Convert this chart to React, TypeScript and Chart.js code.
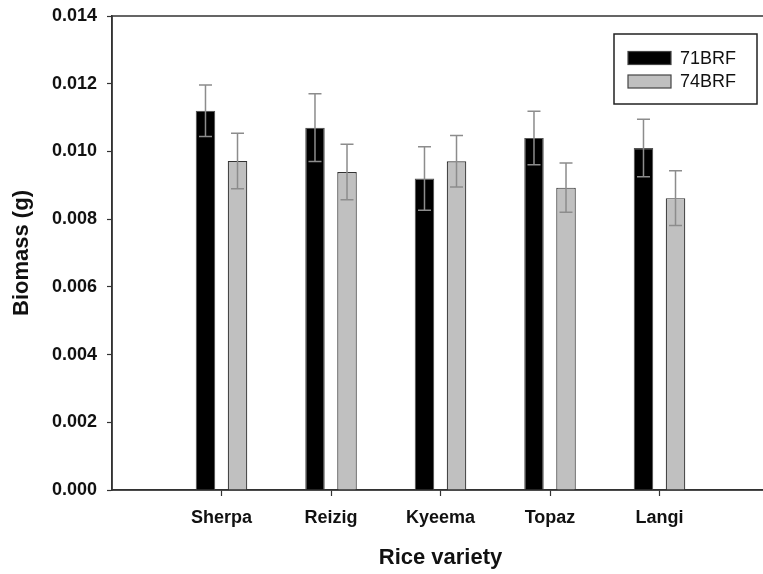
import { useEffect, useRef } from 'react';
import { Chart, registerables } from 'chart.js';

Chart.register(...registerables);

// Biomass per rice variety under two treatments (mean ± error)
const varieties = ['Sherpa', 'Reizig', 'Kyeema', 'Topaz', 'Langi'];
const brf71 = [0.0112, 0.0107, 0.0092, 0.0104, 0.0101];
const brf71Err = [0.00076, 0.001, 0.00094, 0.00079, 0.00085];
const brf74 = [0.00972, 0.00939, 0.00971, 0.00893, 0.00862];
const brf74Err = [0.00082, 0.00082, 0.00076, 0.00073, 0.00081];
const yTicks = [0, 0.002, 0.004, 0.006, 0.008, 0.01, 0.012, 0.014];

const FONT = '"Liberation Sans", Arial, Helvetica, sans-serif';
const AXIS = '#333333';

// empty slots either side so the categories sit at 1..5 on a 0..6 axis
const pad = <T,>(arr: T[]): (T | null)[] => [null, ...arr, null];

const errorBars = {
  id: 'errorBars',
  afterDatasetsDraw(chart: any) {
    const { ctx } = chart;
    const y = chart.scales.y;
    ctx.save();
    ctx.strokeStyle = '#8c8c8c';
    ctx.lineWidth = 1.5;
    chart.data.datasets.forEach((ds: any, di: number) => {
      const meta = chart.getDatasetMeta(di);
      meta.data.forEach((bar: any, i: number) => {
        const v = ds.data[i];
        const e = ds.errors[i];
        if (v == null || e == null) return;
        const x = bar.x;
        const yt = y.getPixelForValue(v + e);
        const yb = y.getPixelForValue(v - e);
        ctx.beginPath();
        ctx.moveTo(x, yt);
        ctx.lineTo(x, yb);
        ctx.moveTo(x - 6.5, yt);
        ctx.lineTo(x + 6.5, yt);
        ctx.moveTo(x - 6.5, yb);
        ctx.lineTo(x + 6.5, yb);
        ctx.stroke();
      });
    });
    ctx.restore();
  },
};

const frame = {
  id: 'frame',
  beforeDatasetsDraw(chart: any) {
    const { ctx, chartArea: a } = chart;
    ctx.save();
    ctx.strokeStyle = AXIS;
    ctx.lineWidth = 1.5;
    ctx.strokeRect(a.left, a.top, a.right - a.left, a.bottom - a.top);
    ctx.restore();
  },
};

const boxLegend = {
  id: 'boxLegend',
  afterDraw(chart: any) {
    const { ctx } = chart;
    const bx = 614, by = 34, bw = 143, bh = 70;
    ctx.save();
    ctx.fillStyle = '#ffffff';
    ctx.fillRect(bx, by, bw, bh);
    ctx.strokeStyle = '#222222';
    ctx.lineWidth = 1.5;
    ctx.strokeRect(bx, by, bw, bh);
    ctx.font = `18px ${FONT}`;
    ctx.textBaseline = 'middle';
    chart.data.datasets.forEach((ds: any, i: number) => {
      const cy = by + 24 + i * 23.5;
      ctx.fillStyle = ds.backgroundColor;
      ctx.fillRect(628, cy - 6.5, 43, 13);
      ctx.strokeStyle = '#444444';
      ctx.lineWidth = 1.2;
      ctx.strokeRect(628, cy - 6.5, 43, 13);
      ctx.fillStyle = '#111111';
      ctx.fillText(ds.label, 680, cy + 1);
    });
    ctx.restore();
  },
};

export default function App() {
  const ref = useRef<HTMLCanvasElement>(null);

  useEffect(() => {
    if (!ref.current) return;
    const chart = new Chart(ref.current, {
      type: 'bar',
      data: {
        labels: ['', ...varieties, ''],
        datasets: [
          {
            label: '71BRF',
            data: pad(brf71),
            errors: pad(brf71Err),
            backgroundColor: '#000000',
            borderColor: '#555555',
            borderWidth: 1.2,
          } as any,
          {
            label: '74BRF',
            data: pad(brf74),
            errors: pad(brf74Err),
            backgroundColor: '#c0c0c0',
            borderColor: '#333333',
            borderWidth: 1.2,
          } as any,
        ],
      },
      options: {
        animation: false,
        responsive: false,
        devicePixelRatio: 1,
        categoryPercentage: 0.585,
        barPercentage: 0.61,
        layout: { padding: { left: 0, top: 16, right: 11, bottom: 0 } },
        plugins: {
          legend: { display: false },
          tooltip: { enabled: false },
        },
        scales: {
          x: {
            offset: false,
            grid: {
              display: true,
              offset: false,
              drawOnChartArea: false,
              drawTicks: true,
              tickLength: 6,
              tickWidth: 1.2,
              tickColor: (c: any) =>
                c.index === 0 || c.index === varieties.length + 1 ? 'rgba(0,0,0,0)' : AXIS,
            },
            border: { display: true, color: AXIS, width: 1.5 },
            ticks: {
              autoSkip: false,
              maxRotation: 0,
              padding: 11,
              color: '#111111',
              font: { family: FONT, size: 18, weight: 'bold' },
            },
            title: {
              display: true,
              text: 'Rice variety',
              color: '#111111',
              font: { family: FONT, size: 22, weight: 'bold' },
              padding: { top: 0, bottom: 3 },
            },
            afterFit: (s: any) => {
              s.height = 84;
              s.paddingLeft = 0;
              s.paddingRight = 0;
            },
          },
          y: {
            min: 0,
            max: 0.014,
            afterBuildTicks: (s: any) => {
              s.ticks = yTicks.map((v) => ({ value: v }));
            },
            grid: {
              display: true,
              drawOnChartArea: false,
              drawTicks: true,
              tickLength: 5,
              tickWidth: 1.2,
              tickColor: AXIS,
            },
            border: { display: true, color: AXIS, width: 1.5 },
            ticks: {
              padding: 10,
              color: '#111111',
              font: { family: FONT, size: 18, weight: 'bold' },
              callback: (v: any) => Number(v).toFixed(3),
            },
            title: {
              display: true,
              text: 'Biomass (g)',
              color: '#111111',
              font: { family: FONT, size: 22, weight: 'bold' },
              padding: { top: 9, bottom: 0 },
            },
            afterFit: (s: any) => {
              s.width = 112;
              s.paddingTop = 0;
              s.paddingBottom = 0;
            },
          },
        },
      },
      plugins: [frame, errorBars, boxLegend],
    });
    return () => chart.destroy();
  }, []);

  return (
    <div
      style={{
        position: 'fixed',
        left: 0,
        top: 0,
        width: 763,
        height: 574,
        overflow: 'hidden',
        background: '#ffffff',
      }}
    >
      <canvas ref={ref} width={780} height={574} style={{ display: 'block' }} />
    </div>
  );
}
